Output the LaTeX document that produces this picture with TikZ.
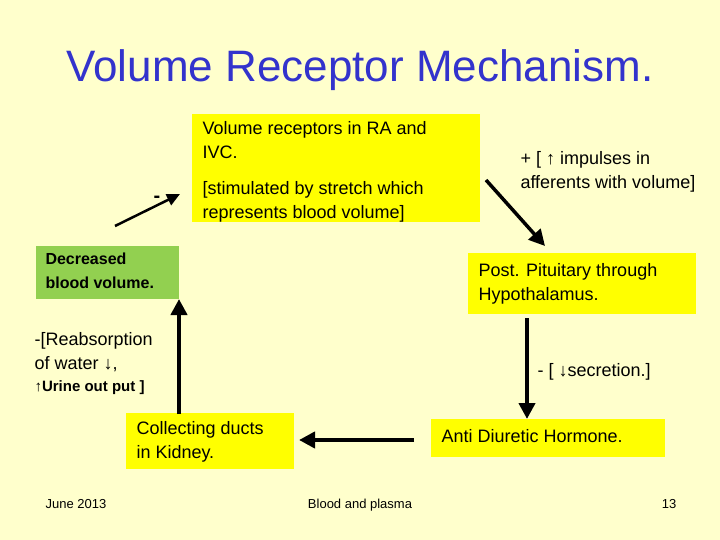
\documentclass[tikz,border=0pt]{standalone}
\usepackage{fontspec}
\setmainfont{Liberation Sans}
\usetikzlibrary{arrows.meta}
\definecolor{bg}{RGB}{255,255,204}
\definecolor{yel}{RGB}{255,255,0}
\definecolor{grn}{RGB}{146,208,80}
\definecolor{ttl}{RGB}{51,51,204}
\begin{document}
\begin{tikzpicture}[x=1pt,y=-1pt,
  lbl/.style={anchor=north west, align=left, font=\fontsize{18}{24}\selectfont},
  arr/.style={line width=4pt, -{Triangle[length=16pt,width=16pt]}}]
\fill[bg] (0,0) rectangle (720,540);
\useasboundingbox (0,0) rectangle (720,540);
\node[text=ttl, font=\fontsize{44}{50}\selectfont] (title) at (360,70) {Volume Receptor Mechanism.};
% boxes
\fill[yel] (192,114) rectangle (480,222);
\node[lbl] (rec) at (199,118) {Volume receptors in RA and\\IVC.\\[12pt][stimulated by stretch which\\represents blood volume]};
\coordinate (recL) at (180,194);
\coordinate (recR) at (486,180);
\fill[grn] (36,246) rectangle (179,299);
\node[lbl, font=\bfseries\fontsize{16}{24}\selectfont] (dec) at (42,249) {Decreased\\blood volume.};
\coordinate (decT) at (115,226);
\coordinate (decB) at (179,299);
\fill[yel] (468,253) rectangle (696,314);
\node[lbl] (pit) at (475,260) {Post. Pituitary through\\Hypothalamus.};
\coordinate (pitB) at (527,318);
\fill[yel] (126,413) rectangle (294,469);
\node[lbl] (col) at (133,418) {Collecting ducts\\in Kidney.};
\coordinate (colT) at (179,414);
\coordinate (colR) at (299,440);
\fill[yel] (431,419) rectangle (665,457);
\node[lbl] (adh) at (438,426) {Anti Diuretic Hormone.};
\coordinate (adhT) at (527,419);
\coordinate (adhL) at (414,440);
% arrows
\draw[arr, line width=2.5pt, -{Triangle[length=13pt,width=12pt]}] (decT) -- (recL);
\draw[arr, line width=3.5pt] (recR) -- (545,246);
\draw[arr] (pitB) -- (adhT);
\draw[arr] (adhL) -- (colR);
\draw[arr] (colT) -- (decB);
% labels
\node[font=\bfseries\fontsize{20}{24}\selectfont] (m1) at (157,199) {-};
\node[lbl] (plus) at (517,148) {+ [ ↑ impulses in\\afferents with volume]};
\node[lbl] (sec) at (534,360) {- [ ↓secretion.]};
\node[lbl] (reab) at (31,329) {-[Reabsorption\\of water ↓,\\[-2pt]{\bfseries\fontsize{15}{20}\selectfont ↑Urine out put ]}};
% footer
\node[font=\fontsize{13}{16}\selectfont, anchor=base] (f1) at (76,508) {June 2013};
\node[font=\fontsize{13}{16}\selectfont, anchor=base] (f2) at (360,508) {Blood and plasma};
\node[font=\fontsize{13}{16}\selectfont, anchor=base] (f3) at (669,508) {13};
\end{tikzpicture}
\end{document}
